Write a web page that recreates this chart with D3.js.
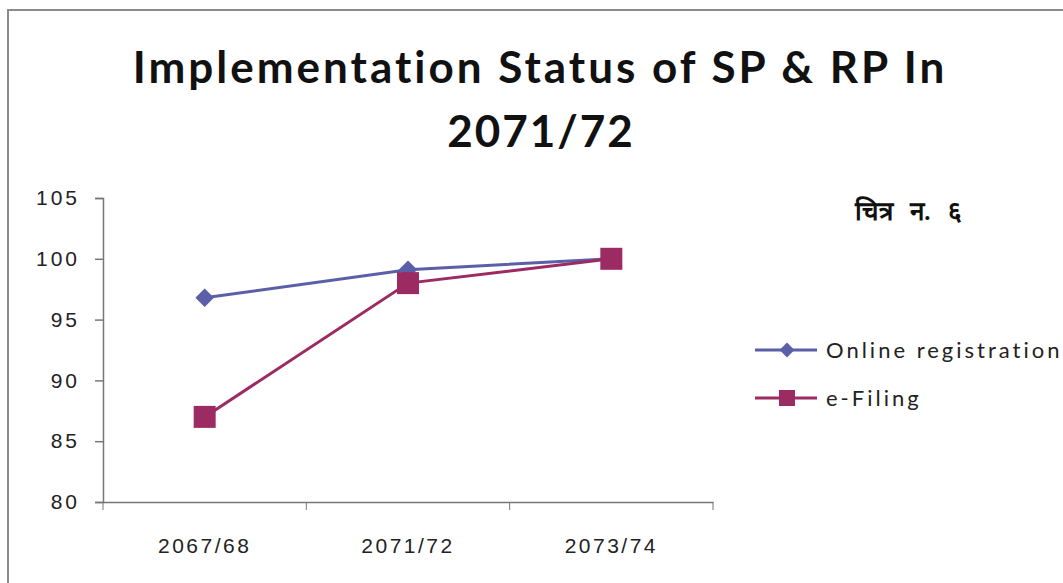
<!DOCTYPE html>
<html>
<head>
<meta charset="utf-8">
<script src="https://cdn.jsdelivr.net/npm/d3@7"></script>
<style>
  body { margin: 0; background: #fff; }
  svg { display: block; font-family: Lato, "Open Sans", sans-serif; }
</style>
</head>
<body>
<div id="chart"></div>
<script>
const years = ["2067/68", "2071/72", "2073/74"];
const onlineRegistration = [96.8, 99.1, 100];
const eFiling = [87.0, 98.0, 100];
const yTicks = [80, 85, 90, 95, 100, 105];
const seriesNames = ["Online registration", "e-Filing"];

const width = 1063;
const height = 583;

const svg = d3.select("#chart")
  .append("svg")
  .attr("width", width)
  .attr("height", height);

// chart area border
svg.append("rect")
  .attr("x", 8).attr("y", 10)
  .attr("width", width + 20).attr("height", height + 20)
  .style("fill", "none")
  .style("stroke", "#8a8a8a")
  .style("stroke-width", 2);

// title
svg.append("text")
  .attr("x", 540).attr("y", 83)
  .style("text-anchor", "middle")
  .style("font-size", "44px")
  .style("font-weight", "bold")
  .style("letter-spacing", "3px")
  .style("fill", "#111")
  .text("Implementation Status of SP & RP In");
svg.append("text")
  .attr("x", 541).attr("y", 147)
  .style("text-anchor", "middle")
  .style("font-size", "44px")
  .style("font-weight", "bold")
  .style("letter-spacing", "2px")
  .style("fill", "#111")
  .text("2071/72");

const xScale = d3.scaleBand().domain(years).range([103, 713]);
const yScale = d3.scaleLinear().domain([80, 105]).range([502, 198]);

// y axis
const yAxis = svg.append("g")
  .attr("transform", "translate(103,0)")
  .call(d3.axisLeft(yScale).tickValues(yTicks).tickSize(8).tickPadding(15));
yAxis.selectAll("text")
  .style("font-size", "21px")
  .style("letter-spacing", "3px")
  .style("fill", "#222");

// x axis
const xAxis = svg.append("g")
  .attr("transform", "translate(0,502)")
  .call(d3.axisBottom(xScale).tickSize(0).tickPadding(36));
xAxis.selectAll("text")
  .style("font-size", "21px")
  .style("letter-spacing", "2.5px")
  .style("fill", "#222");
// category boundary ticks like excel
xAxis.selectAll(".bound")
  .data(years.concat(["end"]))
  .enter()
  .append("line")
  .attr("x1", (d, i) => 103 + i * xScale.bandwidth())
  .attr("x2", (d, i) => 103 + i * xScale.bandwidth())
  .attr("y1", 0).attr("y2", 8)
  .style("stroke", "#777");
svg.selectAll(".domain, .tick line").style("stroke", "#777").style("stroke-width", 1.5);

const cx = (d, i) => xScale(years[i]) + xScale.bandwidth() / 2;

const line = d3.line()
  .x((d, i) => cx(d, i))
  .y((d) => yScale(d));

const blue = "#5b5fa8";
const magenta = "#9c2a63";

svg.append("path")
  .datum(onlineRegistration)
  .attr("d", line)
  .style("fill", "none")
  .style("stroke", blue)
  .style("stroke-width", 3);

svg.append("path")
  .datum(eFiling)
  .attr("d", line)
  .style("fill", "none")
  .style("stroke", magenta)
  .style("stroke-width", 3);

svg.selectAll(".diamond")
  .data(onlineRegistration)
  .enter()
  .append("path")
  .attr("d", d3.symbol().type(d3.symbolDiamond2).size(220))
  .attr("transform", (d, i) => `translate(${cx(d, i)},${yScale(d)})`)
  .style("fill", blue);

svg.selectAll(".square")
  .data(eFiling)
  .enter()
  .append("rect")
  .attr("x", (d, i) => cx(d, i) - 11)
  .attr("y", (d) => yScale(d) - 11)
  .attr("width", 22).attr("height", 22)
  .style("fill", magenta);

// figure number (Nepali)
svg.append("text")
  .attr("x", 855).attr("y", 220)
  .style("font-size", "26px")
  .style("font-weight", "bold")
  .style("word-spacing", "11px")
  .style("fill", "#111")
  .text("चित्र न. ६");

// legend
const legend = svg.append("g");
const legendY = [350, 398];
legend.selectAll(".lline")
  .data(seriesNames)
  .enter()
  .append("line")
  .attr("x1", 755).attr("x2", 817)
  .attr("y1", (d, i) => legendY[i]).attr("y2", (d, i) => legendY[i])
  .style("stroke", (d, i) => i === 0 ? blue : magenta)
  .style("stroke-width", 3);
legend.append("path")
  .attr("d", d3.symbol().type(d3.symbolDiamond2).size(140))
  .attr("transform", `translate(787,${legendY[0]})`)
  .style("fill", blue);
legend.append("rect")
  .attr("x", 779).attr("y", legendY[1] - 8)
  .attr("width", 16).attr("height", 16)
  .style("fill", magenta);
legend.selectAll(".ltext")
  .data(seriesNames)
  .enter()
  .append("text")
  .attr("x", 826)
  .attr("y", (d, i) => legendY[i] + 8)
  .style("font-size", "22px")
  .style("letter-spacing", "3px")
  .style("fill", "#222")
  .text((d) => d);
</script>
</body>
</html>
